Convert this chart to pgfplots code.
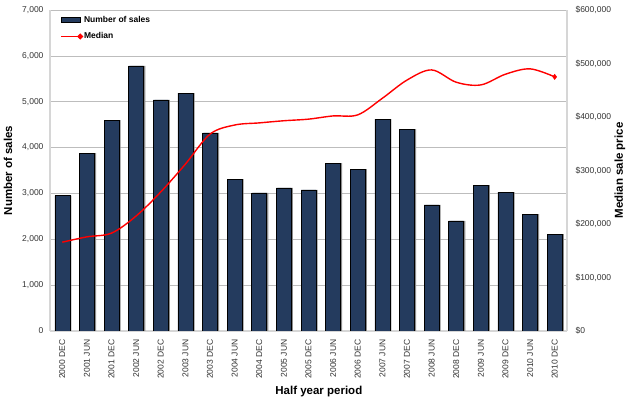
\documentclass[border=0pt]{standalone}
\usepackage{pgfplots}
\pgfplotsset{compat=1.18}
\usepackage{pgfplotstable}
\usepackage{fontspec}
\setmainfont{Liberation Sans}

\definecolor{barblue}{HTML}{243B5E}
\definecolor{gridgray}{HTML}{BDBDBD}
\definecolor{framegray}{HTML}{D6D6D6}
\definecolor{ticktext}{HTML}{333333}

% Half-year sales counts and median sale price
\pgfplotstableread{
idx sales median
0  2950 166000
1  3880 176000
2  4600 183000
3  5780 215000
4  5040 260000
5  5190 312000
6  4320 368000
7  3310 385000
8  3010 389000
9  3120 393000
10 3075 396000
11 3660 402000
12 3530 404000
13 4620 435000
14 4400 469000
15 2750 488000
16 2400 465000
17 3180 460000
18 3030 480000
19 2550 490000
20 2110 475000
}\halfyear

\newcommand{\ticklab}{\fontsize{8.5}{10}\selectfont}
\newcommand{\titlelab}{\bfseries\fontsize{11.5}{13}\selectfont}

\pgfplotsset{
  common/.style={
    at={(50pt,68pt)}, anchor=south west,
    scale only axis, width=517pt, height=321pt,
    xmin=-0.5, xmax=20.5, ymin=0,
    major tick length=0pt,
    scaled y ticks=false,
    tick label style={font=\ticklab, text=ticktext},
    /pgf/number format/assume math mode=true,
  },
}

\begin{document}
\begin{tikzpicture}
\useasboundingbox (0,0) rectangle (627pt,399pt);

% Left axis: number of sales (bars)
\begin{axis}[
  common,
  ymax=7000,
  ytick={0,1000,...,7000},
  yticklabel style={xshift=-3pt, /pgf/number format/.cd, fixed, 1000 sep={,}, assume math mode=true},
  ymajorgrids,
  major grid style={gridgray, line width=0.7pt},
  axis x line*=bottom, axis y line*=left,
  axis line style={framegray, line width=1.6pt},
  xtick=data,
  xticklabels={2000 DEC,2001 JUN,2001 DEC,2002 JUN,2002 DEC,2003 JUN,2003 DEC,2004 JUN,2004 DEC,2005 JUN,2005 DEC,2006 JUN,2006 DEC,2007 JUN,2007 DEC,2008 JUN,2008 DEC,2009 JUN,2009 DEC,2010 JUN,2010 DEC},
  xticklabel style={rotate=90, anchor=east, xshift=-5pt},
  xlabel={Half year period},
  xlabel style={font=\titlelab, at={(axis description cs:0.52,-0.19)}, anchor=center},
  ylabel={Number of sales},
  ylabel style={font=\titlelab, at={(axis description cs:-0.081,0.5)}, anchor=center},
  legend style={at={(axis description cs:0.02,0.985)}, anchor=north west,
    draw=none, fill=none, font=\bfseries\fontsize{8.5}{10}\selectfont,
    row sep=7pt, inner sep=0pt,
    nodes={inner sep=1pt}},
  legend cell align=left,
]
% soft shadow to the right of each bar
\addplot[ybar, bar width=15pt, bar shift=1.6pt, fill=black!45, draw=none, forget plot]
  table[x=idx, y=sales] {\halfyear};
\addplot[ybar, bar width=15pt, bar shift=0pt, fill=barblue, draw=black, line width=0.6pt,
  legend image code/.code={\draw[fill=barblue, draw=black, line width=0.5pt] (0pt,-2.4pt) rectangle (19pt,2.4pt);}]
  table[x=idx, y=sales] {\halfyear};
\addlegendentry{Number of sales}
\addlegendimage{red, line width=1.3pt,
  legend image code/.code={
    \draw[red, line width=1.3pt] (0pt,0pt) -- (19pt,0pt);
    \fill[red] (19pt,0pt) +(-2.2pt,0pt) -- +(0pt,2.2pt) -- +(2.2pt,0pt) -- +(0pt,-2.2pt) -- cycle;}}
\addlegendentry{Median}
\end{axis}

% Right axis: median sale price (line)
\begin{axis}[
  common,
  ymax=600000,
  ytick={0,100000,...,600000},
  yticklabel={\$\pgfmathprintnumber[fixed, 1000 sep={,}, assume math mode=true]{\tick}},
  yticklabel style={xshift=5pt},
  axis x line=none, axis y line*=right,
  axis line style={framegray, line width=1.6pt},
  xtick=\empty,
  ylabel={Median sale price},
  ylabel style={font=\titlelab, at={(axis description cs:1.1025,0.5)}, anchor=center},
]
\addplot[red, line width=1.4pt, smooth, tension=0.55,
  mark=diamond*, mark size=2.6pt, mark indices={21}, mark options={fill=red, draw=red, line width=0.5pt}]
  table[x=idx, y=median] {\halfyear};
\end{axis}
\end{tikzpicture}
\end{document}
